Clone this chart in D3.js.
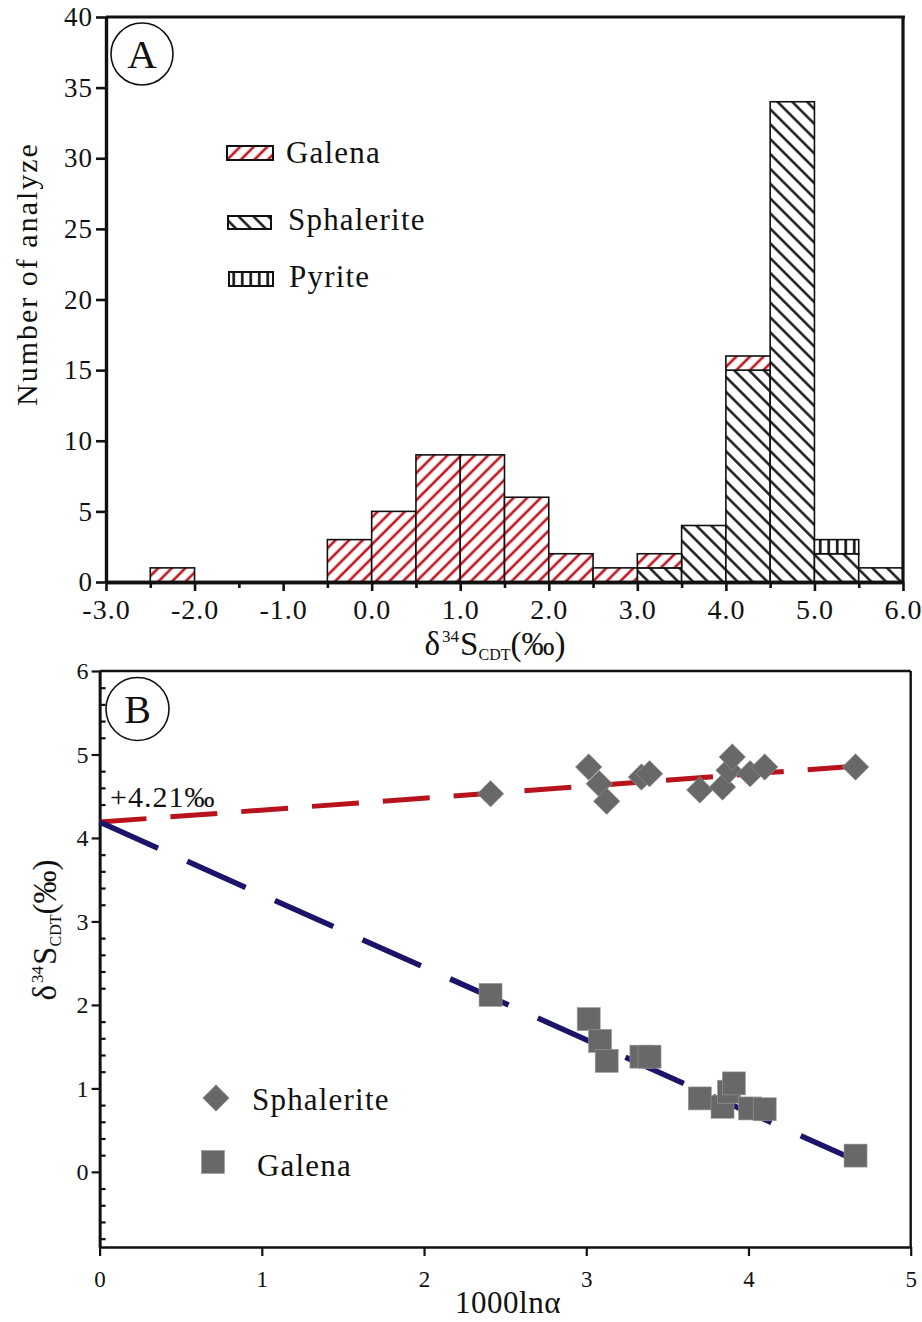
<!DOCTYPE html>
<html>
<head>
<meta charset="utf-8">
<script src="https://cdn.jsdelivr.net/npm/d3@7"></script>
<style>
  html, body { margin: 0; padding: 0; background: #fff; }
  svg { display: block; }
  text { font-family: "Liberation Serif", "Times New Roman", serif; fill: #111; }
</style>
</head>
<body>
<script>
// ---------------- Panel A data (histogram, bin width 0.5 ‰) ----------------
const binStarts = [-3.0, -2.5, -2.0, -1.5, -1.0, -0.5, 0.0, 0.5, 1.0, 1.5, 2.0, 2.5, 3.0, 3.5, 4.0, 4.5, 5.0, 5.5];
const sphaleriteCounts = [0, 0, 0, 0, 0, 0, 0, 0, 0, 0, 0, 0, 1, 4, 15, 34, 2, 1];
const galenaCounts     = [0, 1, 0, 0, 0, 3, 5, 9, 9, 6, 2, 1, 1, 0, 1, 0, 0, 0];
const pyriteCounts     = [0, 0, 0, 0, 0, 0, 0, 0, 0, 0, 0, 0, 0, 0, 0, 0, 1, 0];
const binWidth = 0.5;
const histYTicks = [0, 5, 10, 15, 20, 25, 30, 35, 40];
const histXMajor = [-3, -2, -1, 0, 1, 2, 3, 4, 5, 6];
const histXMinor = [-2.5, -1.5, -0.5, 0.5, 1.5, 2.5, 3.5, 4.5, 5.5];
const histSeries = ["Sphalerite", "Galena", "Pyrite"];

// ---------------- Panel B data (1000lnα vs δ34S) ----------------
const sphaleriteX = [2.41, 3.015, 3.08, 3.126, 3.34, 3.39, 3.70, 3.84, 3.88, 3.90, 4.01, 4.10, 4.66];
const sphaleriteY = [4.53, 4.85, 4.65, 4.44, 4.73, 4.77, 4.575, 4.61, 4.81, 4.97, 4.77, 4.85, 4.85];
const galenaX     = [2.41, 3.015, 3.085, 3.126, 3.34, 3.39, 3.70, 3.84, 3.88, 3.91, 4.01, 4.10, 4.66];
const galenaY     = [2.12, 1.83, 1.57, 1.33, 1.38, 1.38, 0.88, 0.78, 0.96, 1.06, 0.76, 0.75, 0.195];
const sphaleriteTrend = [[0, 4.19], [4.66, 4.86]];
const galenaTrend     = [[0, 4.19], [4.66, 0.14]];
const scatterXTicks = [0, 1, 2, 3, 4, 5];
const scatterYTicks = [0, 1, 2, 3, 4, 5, 6];
const interceptLabel = "+4.21‰";

// ---------------- setup ----------------
const W = 922, H = 1322;
const svg = d3.select("body").append("svg").attr("width", W).attr("height", H);
svg.append("rect").attr("width", W).attr("height", H).attr("fill", "#fff");
const defs = svg.append("defs");

function hatch(id, angle, color, spacing, sw) {
  const p = defs.append("pattern").attr("id", id)
    .attr("patternUnits", "userSpaceOnUse")
    .attr("width", spacing).attr("height", spacing)
    .attr("patternTransform", `rotate(${angle})`);
  p.append("rect").attr("width", spacing).attr("height", spacing).attr("fill", "#fff");
  p.append("line").attr("x1", spacing / 2).attr("y1", -1).attr("x2", spacing / 2).attr("y2", spacing + 1)
    .attr("stroke", color).attr("stroke-width", sw);
}
hatch("pGalena", 45, "#c0141e", 9.6, 2.6);
hatch("pSphalerite", -45, "#111", 10.5, 2.4);
hatch("pPyrite", 0, "#111", 8.5, 2.6);
const fills = { Galena: "url(#pGalena)", Sphalerite: "url(#pSphalerite)", Pyrite: "url(#pPyrite)" };

// ================= Panel A =================
const xA = d3.scaleLinear().domain([-3, 6]).range([106, 903]);
const yA = d3.scaleLinear().domain([0, 40]).range([582, 17]);

const table = binStarts.map((b, i) => ({
  x0: b, Sphalerite: sphaleriteCounts[i], Galena: galenaCounts[i], Pyrite: pyriteCounts[i]
}));
const stacked = d3.stack().keys(histSeries)(table);

const gA = svg.append("g");
stacked.forEach(layer => {
  gA.append("g").selectAll("rect")
    .data(layer.filter(d => d[1] - d[0] > 0))
    .join("rect")
    .attr("x", d => xA(d.data.x0))
    .attr("width", d => xA(d.data.x0 + binWidth) - xA(d.data.x0))
    .attr("y", d => yA(d[1]))
    .attr("height", d => yA(d[0]) - yA(d[1]))
    .attr("fill", fills[layer.key])
    .attr("stroke", "#111").attr("stroke-width", 1.6);
});

// frame A
gA.append("line").attr("x1", xA(-3)).attr("x2", xA(6) + 2).attr("y1", yA(40)).attr("y2", yA(40))
  .attr("stroke", "#111").attr("stroke-width", 3.2);
gA.append("line").attr("x1", xA(6)).attr("x2", xA(6)).attr("y1", yA(40)).attr("y2", yA(0))
  .attr("stroke", "#111").attr("stroke-width", 3.2);

// axes A
const axA_y = gA.append("g").attr("transform", `translate(${xA(-3)},0)`)
  .call(d3.axisLeft(yA).tickValues(histYTicks).tickSize(10).tickSizeOuter(0).tickPadding(3));
const axA_xMinor = gA.append("g").attr("transform", `translate(0,${yA(0)})`)
  .call(d3.axisBottom(xA).tickValues(histXMinor).tickSize(6).tickSizeOuter(0).tickFormat(""));
const axA_x = gA.append("g").attr("transform", `translate(0,${yA(0)})`)
  .call(d3.axisBottom(xA).tickValues(histXMajor).tickSize(9).tickSizeOuter(0).tickPadding(3)
    .tickFormat(d => d.toFixed(1)));
[axA_y, axA_x, axA_xMinor].forEach(a => {
  a.select(".domain").attr("stroke", "#111").attr("stroke-width", 3.4);
  a.selectAll(".tick line").attr("stroke", "#111").attr("stroke-width", 2.6);
});
axA_y.selectAll(".tick text").attr("font-size", 27).attr("letter-spacing", 1)
  .attr("font-family", "Liberation Serif").attr("fill", "#111");
axA_x.selectAll(".tick text").attr("font-size", 28).attr("letter-spacing", 1)
  .attr("font-family", "Liberation Serif").attr("fill", "#111").attr("dy", "0.9em");

// axis titles A
svg.append("text").attr("transform", "translate(37,274) rotate(-90)")
  .attr("text-anchor", "middle").attr("font-size", 30).attr("letter-spacing", 2)
  .text("Number of analyze");

function deltaLabel(sel) {
  sel.append("tspan").text("δ");
  sel.append("tspan").attr("font-size", 17).attr("dy", -13).attr("dx", 2).text("34");
  sel.append("tspan").attr("dy", 13).attr("dx", 1).text("S");
  sel.append("tspan").attr("font-size", 16).attr("dy", 5).text("CDT");
  sel.append("tspan").attr("dy", -5).text("(‰)");
}
svg.append("text").attr("x", 495).attr("y", 655).attr("text-anchor", "middle")
  .attr("font-size", 33).call(deltaLabel);

// panel label A
svg.append("circle").attr("cx", 142).attr("cy", 54).attr("r", 31)
  .attr("fill", "none").attr("stroke", "#111").attr("stroke-width", 1.6);
svg.append("text").attr("x", 142).attr("y", 68).attr("text-anchor", "middle")
  .attr("font-size", 41).text("A");

// legend A
const legA = [
  { key: "Galena", x: 227, y: 146, w: 46, h: 14, tx: 286, ty: 163 },
  { key: "Sphalerite", x: 228, y: 216, w: 43, h: 13, tx: 288, ty: 230 },
  { key: "Pyrite", x: 229, y: 272, w: 44, h: 14, tx: 289, ty: 287 }
];
legA.forEach(l => {
  svg.append("rect").attr("x", l.x).attr("y", l.y).attr("width", l.w).attr("height", l.h)
    .attr("fill", fills[l.key]).attr("stroke", "#111").attr("stroke-width", 2);
  svg.append("text").attr("x", l.tx).attr("y", l.ty).attr("font-size", 31)
    .attr("letter-spacing", 1.2).text(l.key);
});

// ================= Panel B =================
const xB = d3.scaleLinear().domain([0, 5]).range([99.6, 910.7]);
const yB = d3.scaleLinear().domain([-0.9, 6]).range([1247, 671]);
const gB = svg.append("g");

// frame B
gB.append("line").attr("x1", xB(0)).attr("x2", xB(5)).attr("y1", yB(6)).attr("y2", yB(6))
  .attr("stroke", "#111").attr("stroke-width", 2.4);
gB.append("line").attr("x1", xB(5)).attr("x2", xB(5)).attr("y1", yB(6)).attr("y2", yB(-0.9))
  .attr("stroke", "#111").attr("stroke-width", 2.4);

const minorB = d3.range(-8, 60, 2).filter(v => v % 10 !== 0).map(v => v / 10);
const axB_yMinor = gB.append("g").attr("transform", `translate(${xB(0)},0)`)
  .call(d3.axisRight(yB).tickValues(minorB).tickSize(6).tickSizeOuter(0).tickFormat(""));
const axB_y = gB.append("g").attr("transform", `translate(${xB(0)},0)`)
  .call(d3.axisLeft(yB).tickValues(scatterYTicks).tickSize(8).tickSizeOuter(0).tickPadding(3)
    .tickFormat(d3.format("d")));
const axB_x = gB.append("g").attr("transform", `translate(0,${yB(-0.9)})`)
  .call(d3.axisBottom(xB).tickValues(scatterXTicks).tickSize(9).tickSizeOuter(0).tickPadding(8)
    .tickFormat(d3.format("d")));
[axB_y, axB_x, axB_yMinor].forEach(a => {
  a.select(".domain").attr("stroke", "#111").attr("stroke-width", 2.6);
  a.selectAll(".tick line").attr("stroke", "#111").attr("stroke-width", 2.2);
});
axB_y.selectAll(".tick text").attr("font-size", 24).attr("font-family", "Liberation Serif").attr("fill", "#111");
axB_x.selectAll(".tick text").attr("font-size", 23).attr("font-family", "Liberation Serif").attr("fill", "#111")
  .attr("dy", "1em");

// titles B
svg.append("text").attr("x", 508).attr("y", 1313).attr("text-anchor", "middle")
  .attr("font-size", 31).attr("letter-spacing", 0.5).text("1000lnα");
svg.append("text").attr("transform", "translate(56,930) rotate(-90)").attr("text-anchor", "middle")
  .attr("font-size", 33).call(deltaLabel);

// trend lines
const lineGen = d3.line().x(d => xB(d[0])).y(d => yB(d[1]));
gB.append("path").datum(sphaleriteTrend).attr("d", lineGen)
  .attr("fill", "none").attr("stroke", "#b8131d").attr("stroke-width", 5)
  .attr("stroke-dasharray", "47 24");
gB.append("path").datum(galenaTrend).attr("d", lineGen)
  .attr("fill", "none").attr("stroke", "#1b1468").attr("stroke-width", 5.5)
  .attr("stroke-dasharray", "64 32");

// markers
const gray = "#686868";
const sphPts = sphaleriteX.map((x, i) => [x, sphaleriteY[i]]);
const galPts = galenaX.map((x, i) => [x, galenaY[i]]);
const diamond = d3.symbol().type(d3.symbolDiamond2).size(450);
gB.append("g").selectAll("rect").data(galPts).join("rect")
  .attr("x", d => xB(d[0]) - 11.5).attr("y", d => yB(d[1]) - 11.5)
  .attr("width", 23).attr("height", 23)
  .attr("fill", gray).attr("stroke", "#9a9a9a").attr("stroke-width", 0.6);
gB.append("g").selectAll("path").data(sphPts).join("path")
  .attr("d", diamond)
  .attr("transform", d => `translate(${xB(d[0])},${yB(d[1])})`)
  .attr("fill", gray).attr("stroke", "#9a9a9a").attr("stroke-width", 0.6);

// intercept label
svg.append("text").attr("x", 110).attr("y", 807).attr("font-size", 30).attr("letter-spacing", 1)
  .text(interceptLabel);

// panel label B
svg.append("circle").attr("cx", 137.5).attr("cy", 709).attr("r", 31.5)
  .attr("fill", "none").attr("stroke", "#111").attr("stroke-width", 1.6);
svg.append("text").attr("x", 137.5).attr("y", 723).attr("text-anchor", "middle")
  .attr("font-size", 40).text("B");

// legend B
svg.append("path").attr("d", diamond).attr("transform", "translate(216,1098)")
  .attr("fill", gray).attr("stroke", "#9a9a9a").attr("stroke-width", 0.6);
svg.append("text").attr("x", 252).attr("y", 1110).attr("font-size", 31).attr("letter-spacing", 1.2)
  .text("Sphalerite");
svg.append("rect").attr("x", 201.5).attr("y", 1150.5).attr("width", 23).attr("height", 23)
  .attr("fill", gray).attr("stroke", "#9a9a9a").attr("stroke-width", 0.6);
svg.append("text").attr("x", 257).attr("y", 1176).attr("font-size", 31).attr("letter-spacing", 1.2)
  .text("Galena");
</script>
</body>
</html>
